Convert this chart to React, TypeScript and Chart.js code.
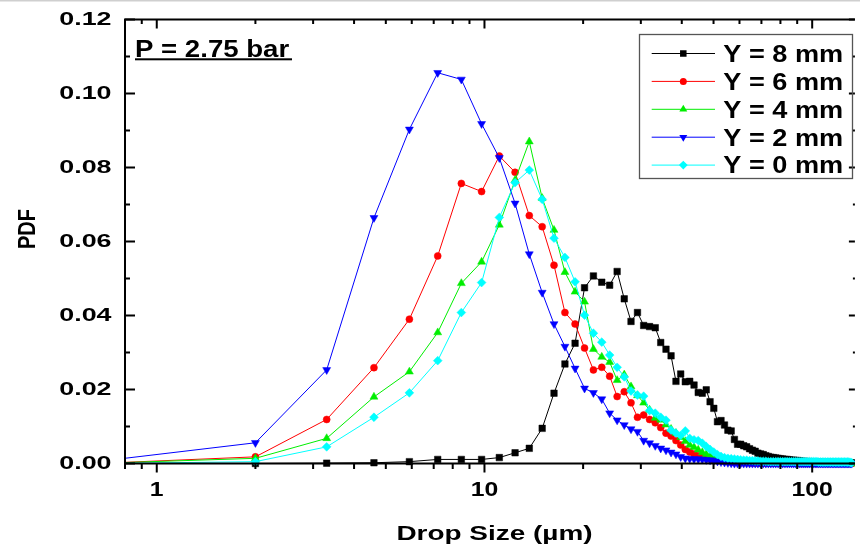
import React, { useEffect, useRef } from 'react';
import { Chart, registerables } from 'chart.js';

Chart.register(...registerables);

// Drop size bins (µm)
const dropSize = [
  0.7, 2.0, 3.3, 4.6, 5.9, 7.2, 8.5, 9.8, 11.1, 12.4,
  13.7, 15.0, 16.3, 17.6, 18.9, 20.2, 21.5, 22.8, 24.1, 25.4,
  26.7, 28.0, 29.3, 30.6, 31.9, 33.2, 34.5, 35.8, 37.1, 38.4,
  39.7, 41.0, 42.3, 43.6, 44.9, 46.2, 47.5, 48.8, 50.1, 51.4,
  52.7, 54.0, 55.3, 56.6, 57.9, 59.2, 60.5, 61.8, 63.1, 64.4,
  65.7, 67.0, 68.3, 69.6, 70.9, 72.2, 73.5, 74.8, 76.1, 77.4,
  78.7, 80.0, 81.3, 82.6, 83.9, 85.2, 86.5, 87.8, 89.1, 90.4,
  91.7, 93.0, 94.3, 95.6, 96.9, 98.2, 99.5, 100.8, 102.1, 103.4,
  104.7, 106.0, 107.3, 108.6, 109.9, 111.2, 112.5, 113.8, 115.1, 116.4,
  117.7, 119.0, 120.3, 121.6, 122.9, 124.2, 125.5, 126.8, 128.1, 129.4,
  130.7, 132.0,
];

const pdfY8 = [
  0, 0, 0.0001, 0.0002, 0.0005, 0.0011, 0.0011, 0.0011, 0.0016, 0.0029,
  0.0041, 0.0095, 0.019, 0.0269, 0.0325, 0.0475, 0.0507, 0.049, 0.0482, 0.0519,
  0.0445, 0.0384, 0.0408, 0.0373, 0.037, 0.0367, 0.0327, 0.0309, 0.0291, 0.0222,
  0.0242, 0.0221, 0.0222, 0.0212, 0.0192, 0.019, 0.0199, 0.0167, 0.0149, 0.0113,
  0.0116, 0.0104, 0.009, 0.0088, 0.0065, 0.0052, 0.0052, 0.0048, 0.0045, 0.004,
  0.0036, 0.0033, 0.0028, 0.0026, 0.0024, 0.0021, 0.0019, 0.0017, 0.0016, 0.0015,
  0.0014, 0.0013, 0.0012, 0.0011, 0.0011, 0.001, 0.0009, 0.0009, 0.0008, 0.0008,
  0.0007, 0.0006, 0.0006, 0.0005, 0.0005, 0.0005, 0.0004, 0.0004, 0.0004, 0.0004,
  0.0004, 0.0003, 0.0003, 0.0003, 0.0003, 0.0003, 0.0003, 0.0003, 0.0003, 0.0003,
  0.0003, 0.0002, 0.0002, 0.0002, 0.0002, 0.0002, 0.0002, 0.0002, 0.0002, 0.0002,
  0.0002, 0.0002,
];

const pdfY6 = [
  0.0001, 0.0018, 0.0119, 0.0259, 0.039, 0.0561, 0.0757, 0.0735, 0.0831, 0.0787,
  0.067, 0.064, 0.0536, 0.0408, 0.0377, 0.0312, 0.0253, 0.026, 0.0236, 0.0181,
  0.0194, 0.0164, 0.0125, 0.0131, 0.0119, 0.011, 0.0097, 0.0082, 0.0074, 0.0062,
  0.005, 0.0038, 0.0031, 0.0026, 0.0021, 0.0018, 0.0015, 0.0012, 0.001, 0.0009,
  0.0008, 0.0006, 0.0005, 0.0004, 0.0003, 0.0003, 0.0002, 0.0002, 0.0002, 0.0002,
  0.0001, 0.0001, 0.0001, 0.0001, 0.0001, 0.0001, 0.0001, 0.0001, 0.0001, 0.0001,
  0.0001, 0.0001, 0.0001, 0.0001, 0.0001, 0.0001, 0.0001, 0.0001, 0.0001, 0.0001,
  0, 0, 0, 0, 0, 0, 0, 0, 0, 0,
  0, 0, 0, 0, 0, 0, 0, 0, 0, 0,
  0, 0, 0, 0, 0, 0, 0, 0, 0, 0,
  0, 0,
];

const pdfY4 = [
  0.0001, 0.0014, 0.0068, 0.018, 0.0248, 0.0354, 0.0487, 0.0545, 0.0645, 0.0766,
  0.087, 0.0717, 0.0631, 0.0517, 0.0464, 0.0437, 0.0309, 0.0288, 0.0274, 0.0225,
  0.024, 0.0208, 0.0184, 0.0164, 0.0145, 0.0123, 0.0118, 0.0105, 0.0093, 0.0082,
  0.0071, 0.006, 0.005, 0.0044, 0.0037, 0.003, 0.0025, 0.002, 0.0016, 0.0013,
  0.0011, 0.0009, 0.0007, 0.0005, 0.0004, 0.0003, 0.0003, 0.0002, 0.0002, 0.0002,
  0.0001, 0.0001, 0.0001, 0.0001, 0.0001, 0.0001, 0.0001, 0.0001, 0.0001, 0.0001,
  0.0001, 0.0001, 0.0001, 0.0001, 0.0001, 0.0001, 0.0001, 0.0001, 0.0001, 0.0001,
  0, 0, 0, 0, 0, 0, 0, 0, 0, 0,
  0, 0, 0, 0, 0, 0, 0, 0, 0, 0,
  0, 0, 0, 0, 0, 0, 0, 0, 0, 0,
  0, 0,
];

const pdfY2 = [
  0.0008, 0.0056, 0.0253, 0.0664, 0.0903, 0.1056, 0.1038, 0.0918, 0.0826, 0.0703,
  0.0566, 0.0462, 0.0377, 0.0316, 0.0257, 0.0203, 0.0191, 0.0174, 0.0136, 0.0117,
  0.0104, 0.0093, 0.0086, 0.0062, 0.0055, 0.0048, 0.0041, 0.0036, 0.003, 0.0025,
  0.0018, 0.0014, 0.0013, 0.0012, 0.0012, 0.0011, 0.001, 0.0009, 0.0008, 0.0006,
  0.0004, 0.0003, 0.0002, 0.0001, 0, 0, 0, 0, 0, 0,
  0, 0, 0, 0, 0, 0, 0, 0, 0, 0,
  0, 0, 0, 0, 0, 0, 0, 0, 0, 0,
  0, 0, 0, 0, 0, 0, 0, 0, 0, 0,
  0, 0, 0, 0, 0, 0, 0, 0, 0, 0,
  0, 0, 0, 0, 0, 0, 0, 0, 0, 0,
  0, 0,
];

const pdfY0 = [
  0, 0.0005, 0.0045, 0.0125, 0.0191, 0.0278, 0.0408, 0.0489, 0.0665, 0.0759,
  0.0793, 0.0714, 0.0609, 0.0557, 0.0491, 0.0401, 0.0352, 0.0328, 0.0293, 0.026,
  0.0234, 0.0196, 0.0185, 0.0182, 0.0143, 0.0136, 0.0125, 0.0117, 0.009, 0.0082,
  0.0076, 0.0088, 0.0068, 0.0064, 0.0062, 0.0055, 0.0046, 0.0038, 0.0031, 0.0024,
  0.0019, 0.0016, 0.0014, 0.0013, 0.0012, 0.0011, 0.001, 0.0009, 0.0009, 0.0008,
  0.0008, 0.0007, 0.0007, 0.0006, 0.0006, 0.0006, 0.0005, 0.0005, 0.0005, 0.0005,
  0.0005, 0.0005, 0.0005, 0.0005, 0.0005, 0.0005, 0.0005, 0.0005, 0.0005, 0.0005,
  0.0005, 0.0005, 0.0005, 0.0005, 0.0005, 0.0005, 0.0005, 0.0005, 0.0005, 0.0005,
  0.0004, 0.0004, 0.0004, 0.0004, 0.0004, 0.0004, 0.0004, 0.0004, 0.0004, 0.0004,
  0.0004, 0.0004, 0.0004, 0.0004, 0.0004, 0.0004, 0.0004, 0.0004, 0.0004, 0.0004,
  0.0003, 0.0002,
];

const seriesLabels = ['Y = 8 mm', 'Y = 6 mm', 'Y = 4 mm', 'Y = 2 mm', 'Y = 0 mm'];
const yMajorTicks = [0, 0.02, 0.04, 0.06, 0.08, 0.1, 0.12];
const yMinorTicks = [0.01, 0.03, 0.05, 0.07, 0.09, 0.11];
const xMajorTicks = [1, 10, 100];
const xMinorTicks = [0.8, 0.9, 2, 3, 4, 5, 6, 7, 8, 9, 20, 30, 40, 50, 60, 70, 80, 90];
const annotationText = 'P = 2.75 bar';
const xTitle = 'Drop Size (µm)';
const yTitle = 'PDF';

const FONT = '"Liberation Sans", Arial, Helvetica, sans-serif';

function stretchText(
  ctx: CanvasRenderingContext2D,
  text: string,
  x: number,
  y: number,
  size: number,
  sx: number,
  align: CanvasTextAlign,
) {
  ctx.save();
  ctx.font = `bold ${size}px ${FONT}`;
  ctx.textAlign = align;
  ctx.textBaseline = 'alphabetic';
  ctx.fillStyle = '#000';
  ctx.translate(x, y);
  ctx.scale(sx, 1);
  ctx.fillText(text, 0, 0);
  ctx.restore();
}

function drawMarker(ctx: CanvasRenderingContext2D, style: string, rot: number, x: number, y: number, r: number, color: string) {
  ctx.save();
  ctx.fillStyle = color;
  ctx.beginPath();
  if (style === 'rect') {
    const s = Math.SQRT1_2 * r;
    ctx.rect(x - s, y - s, 2 * s, 2 * s);
  } else if (style === 'circle') {
    ctx.arc(x, y, r, 0, Math.PI * 2);
  } else if (style === 'triangle') {
    let a = (rot * Math.PI) / 180;
    ctx.moveTo(x + Math.sin(a) * r, y - Math.cos(a) * r);
    a += (2 * Math.PI) / 3;
    ctx.lineTo(x + Math.sin(a) * r, y - Math.cos(a) * r);
    a += (2 * Math.PI) / 3;
    ctx.lineTo(x + Math.sin(a) * r, y - Math.cos(a) * r);
    ctx.closePath();
  } else if (style === 'rectRot') {
    ctx.moveTo(x - r, y);
    ctx.lineTo(x, y - r);
    ctx.lineTo(x + r, y);
    ctx.lineTo(x, y + r);
    ctx.closePath();
  }
  ctx.fill();
  ctx.restore();
}

const decorPlugin = {
  id: 'decor',
  afterDraw(chart: any) {
    const ctx: CanvasRenderingContext2D = chart.ctx;
    const { left, right, top, bottom } = chart.chartArea;
    const xs = chart.scales.x;
    const ys = chart.scales.y;
    ctx.save();

    // faint line at very top of image
    ctx.fillStyle = '#cfcfcf';
    ctx.fillRect(0, 0, chart.width, 1.5);

    // frame
    ctx.strokeStyle = '#000';
    ctx.lineWidth = 2;
    ctx.beginPath();
    ctx.moveTo(left, top);
    ctx.lineTo(right, top);
    ctx.moveTo(left, top - 1);
    ctx.lineTo(left, bottom + 1);
    ctx.moveTo(left - 1, bottom);
    ctx.lineTo(right, bottom);
    ctx.stroke();

    // x ticks
    ctx.beginPath();
    xMajorTicks.forEach((v) => {
      const p = xs.getPixelForValue(v);
      ctx.moveTo(p, bottom);
      ctx.lineTo(p, bottom + 9);
      ctx.moveTo(p, top);
      ctx.lineTo(p, top + 9);
    });
    xMinorTicks.forEach((v) => {
      const p = xs.getPixelForValue(v);
      if (p < left - 0.5 || p > right) return;
      ctx.moveTo(p, bottom);
      ctx.lineTo(p, bottom + 5.5);
      ctx.moveTo(p, top);
      ctx.lineTo(p, top + 4.5);
    });
    // y ticks
    yMajorTicks.forEach((v) => {
      const p = ys.getPixelForValue(v);
      ctx.moveTo(left, p);
      ctx.lineTo(left + 10, p);
      ctx.moveTo(right - 6, p);
      ctx.lineTo(right, p);
    });
    yMinorTicks.forEach((v) => {
      const p = ys.getPixelForValue(v);
      ctx.moveTo(left, p);
      ctx.lineTo(left + 5, p);
      ctx.moveTo(right - 2, p);
      ctx.lineTo(right, p);
    });
    ctx.stroke();

    // y tick labels
    yMajorTicks.forEach((v) => {
      const p = ys.getPixelForValue(v);
      stretchText(ctx, v.toFixed(2), 111.5, p + 5.5, 18.5, 1.45, 'right');
    });
    // x tick labels
    xMajorTicks.forEach((v) => {
      const p = xs.getPixelForValue(v);
      stretchText(ctx, String(v), p, 496, 19.5, 1.27, 'center');
    });

    // axis titles
    stretchText(ctx, xTitle, 494.5, 540, 21, 1.33, 'center');
    ctx.save();
    ctx.font = `bold 20px ${FONT}`;
    ctx.textAlign = 'center';
    ctx.textBaseline = 'alphabetic';
    ctx.fillStyle = '#000';
    ctx.translate(35, 229);
    ctx.scale(1.2, 1);
    ctx.rotate(-Math.PI / 2);
    ctx.fillText(yTitle, 0, 0);
    ctx.restore();

    // annotation
    stretchText(ctx, annotationText, 135, 56.7, 23, 1.2, 'left');
    ctx.fillStyle = '#000';
    ctx.fillRect(135, 58.3, 157, 2);

    // legend
    ctx.strokeStyle = '#555';
    ctx.lineWidth = 1.3;
    ctx.strokeRect(639.5, 34.5, 213, 144);
    chart.data.datasets.forEach((ds: any, i: number) => {
      const cy = 53.5 + i * 27.9;
      ctx.strokeStyle = ds.borderColor;
      ctx.lineWidth = 1;
      ctx.beginPath();
      ctx.moveTo(651.7, cy);
      ctx.lineTo(715, cy);
      ctx.stroke();
      drawMarker(ctx, ds.pointStyle, ds.pointRotation || 0, 683.3, cy, ds.pointRadius, ds.backgroundColor);
      stretchText(ctx, ds.label, 723.3, cy + 8.3, 23, 1.18, 'left');
    });

    ctx.restore();
  },
};

export default function App() {
  const canvasRef = useRef<HTMLCanvasElement | null>(null);

  useEffect(() => {
    document.body.style.margin = '0';
    const canvas = canvasRef.current;
    if (!canvas) return;

    const toPoints = (vals: number[]) => dropSize.map((x, i) => ({ x, y: vals[i] }));

    const mk = (label: string, vals: number[], color: string, style: string, radius: number, order: number, rotation = 0) => ({
      label,
      data: toPoints(vals),
      borderColor: color,
      backgroundColor: color,
      borderWidth: 1,
      pointStyle: style,
      pointRotation: rotation,
      pointRadius: radius,
      pointBackgroundColor: color,
      pointBorderColor: color,
      pointBorderWidth: 0.5,
      tension: 0,
      order,
      clip: { left: 0, top: 6, right: 0, bottom: 6 },
    });

    const chart = new Chart(canvas, {
      type: 'line',
      data: {
        datasets: [
          mk(seriesLabels[0], pdfY8, '#000000', 'rect', 4.6, 5),
          mk(seriesLabels[1], pdfY6, '#ff0000', 'circle', 3.5, 4),
          mk(seriesLabels[2], pdfY4, '#00ee00', 'triangle', 4.6, 3),
          mk(seriesLabels[3], pdfY2, '#0000ff', 'triangle', 4.6, 2, 180),
          mk(seriesLabels[4], pdfY0, '#00ffff', 'rectRot', 4.4, 1),
        ] as any,
      },
      options: {
        responsive: false,
        animation: false,
        events: [],
        layout: { padding: { top: 19.5, right: 0, bottom: 0, left: 0 } },
        plugins: {
          legend: { display: false },
          tooltip: { enabled: false },
        },
        scales: {
          x: {
            type: 'logarithmic',
            min: 0.8,
            max: 135,
            grid: { display: false, drawTicks: false },
            border: { display: false },
            ticks: { display: false },
            afterFit: (s: any) => {
              s.height = 80.5;
            },
          },
          y: {
            type: 'linear',
            min: 0,
            max: 0.12,
            grid: { display: false, drawTicks: false },
            border: { display: false },
            ticks: { display: false, stepSize: 0.02 },
            afterFit: (s: any) => {
              s.width = 125;
            },
          },
        },
      } as any,
      plugins: [decorPlugin],
    });

    return () => chart.destroy();
  }, []);

  return (
    <div style={{ width: 860, height: 544, background: '#fff' }}>
      <canvas ref={canvasRef} width={860} height={544} style={{ display: 'block' }} />
    </div>
  );
}
